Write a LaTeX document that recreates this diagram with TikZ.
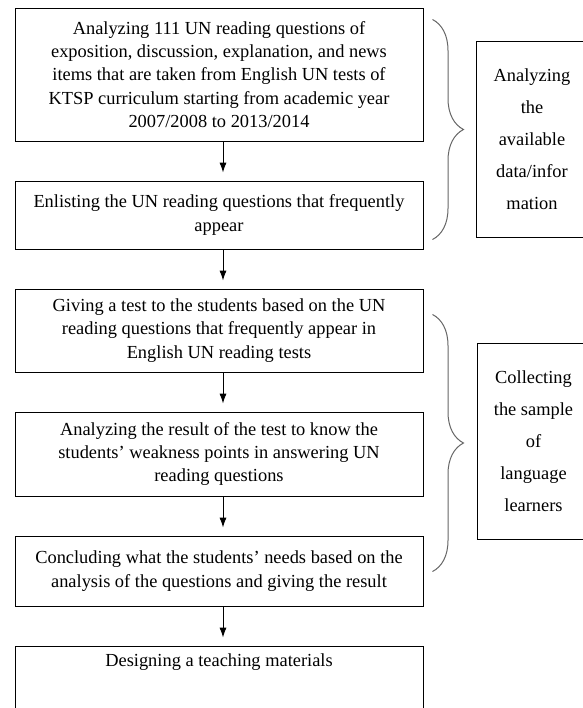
\documentclass[tikz,border=0pt]{standalone}
\usepackage{fontspec}
\setmainfont{Liberation Serif}
\usetikzlibrary{positioning,arrows.meta,decorations.pathreplacing}

\begin{document}
\begin{tikzpicture}[
    x=0.5pt, y=-0.5pt,
    node distance=19.5pt,
    >={Latex[length=5pt,width=3.6pt]},
    box/.style={
        draw,
        line width=0.5pt,
        align=center,
        minimum width=204pt,
        inner sep=4pt,
        font=\fontsize{9.2}{11.65}\selectfont
    },
    sidebox/.style={
        draw,
        line width=0.5pt,
        align=center,
        minimum width=56pt,
        minimum height=98pt,
        font=\fontsize{9.2}{16}\selectfont
    },
    grpbrace/.style={
        decorate,
        decoration={brace, amplitude=15.5pt},
        draw=black!60,
        line width=0.5pt
    },
    flow/.style={->, line width=0.5pt, shorten >=4pt}
]
    \useasboundingbox (0,0) rectangle (583,708);
    \clip (0,0) rectangle (583,708);

    % Coluna principal
    \node[box, minimum height=66.5pt] (analyze) at (219,74.5)
        {Analyzing 111 UN reading questions of\\
         exposition, discussion, explanation, and news\\
         items that are taken from English UN tests of\\
         KTSP curriculum starting from academic year\\
         2007/2008 to 2013/2014};
    \node[box, minimum height=34pt, below=of analyze] (enlist)
        {Enlisting the UN reading questions that frequently\\ appear};
    \node[box, minimum height=41.5pt, below=of enlist] (test)
        {Giving a test to the students based on the UN\\
         reading questions that frequently appear in\\
         English UN reading tests};
    \node[box, minimum height=42pt, below=of test] (result)
        {Analyzing the result of the test to know the\\
         students' weakness points in answering UN\\
         reading questions};
    \node[box, minimum height=35pt, below=of result] (needs)
        {Concluding what the students' needs based on the\\
         analysis of the questions and giving the result};
    \node[box, below=of needs] (design)
        {Designing a teaching materials\\ \mbox{}\\ \mbox{}\\ \mbox{}};

    % Caixas laterais
    \node[sidebox] (available) at (532,139)
        {Analyzing\\ the\\ available\\ data/infor\\ mation};
    \node[sidebox] (sample) at (533.5,441)
        {Collecting\\ the sample\\ of\\ language\\ learners};

    % Setas
    \draw[flow] ([xshift=2pt]analyze.south) -- ([xshift=2pt]enlist.north);
    \draw[flow] ([xshift=2pt]enlist.south) -- ([xshift=2pt]test.north);
    \draw[flow] ([xshift=2pt]test.south) -- ([xshift=2pt]result.north);
    \draw[flow] ([xshift=2pt]result.south) -- ([xshift=2pt]needs.north);
    \draw[flow] ([xshift=2pt]needs.south) -- ([xshift=2pt]design.north);

    % Chaves
    \draw[grpbrace] ([xshift=4.5pt,yshift=-6pt]analyze.north east)
        -- ([xshift=4.5pt,yshift=5pt]enlist.south east);
    \draw[grpbrace] ([xshift=4.5pt,yshift=-13pt]test.north east)
        -- ([xshift=4.5pt,yshift=17.5pt]needs.south east);
\end{tikzpicture}
\end{document}
